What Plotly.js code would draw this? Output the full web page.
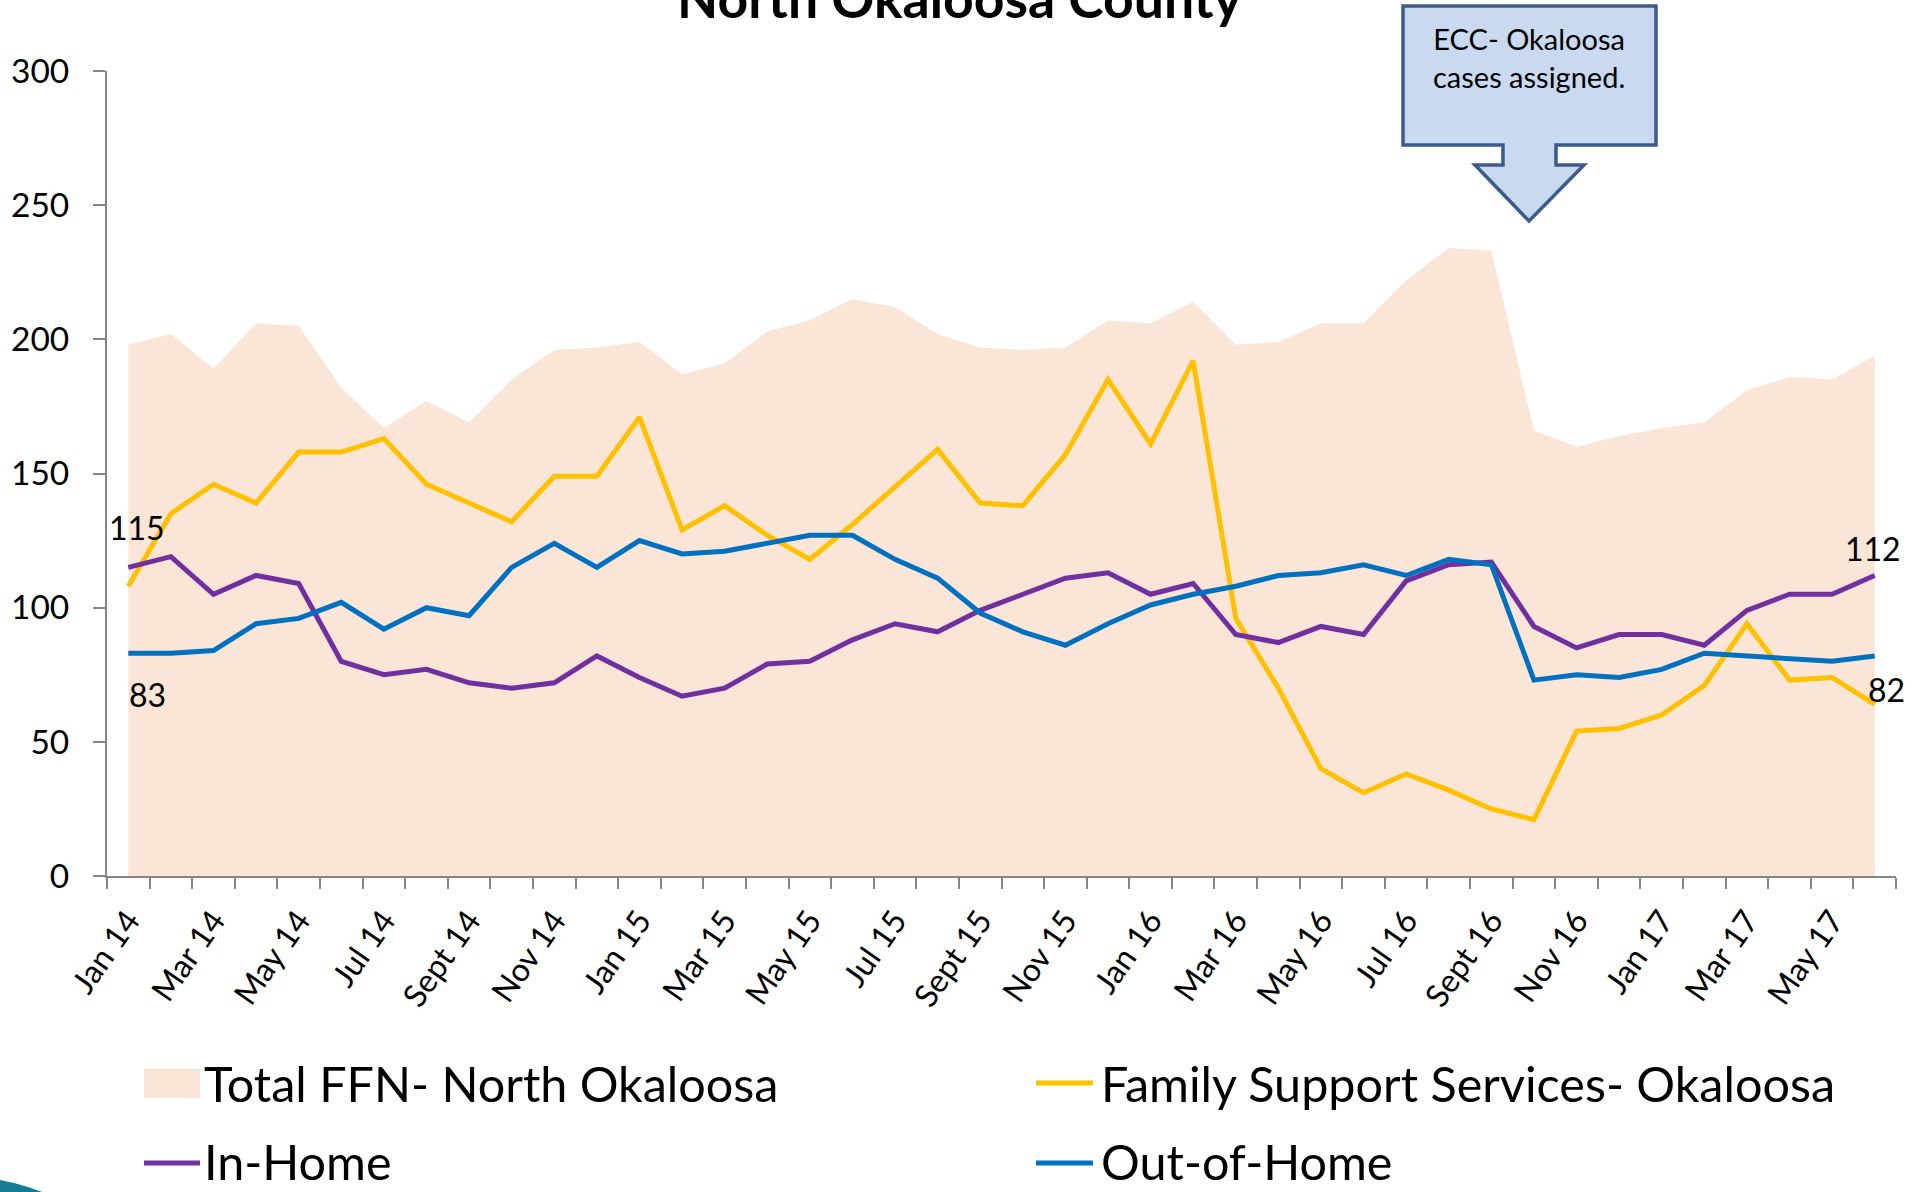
<!DOCTYPE html>
<html>
<head>
<meta charset="utf-8">
<script src="https://cdn.plot.ly/plotly-3.0.1.min.js"></script>
<style>html,body{margin:0;padding:0;background:#fff;}</style>
</head>
<body>
<div id="chart" style="width:1926px;height:1192px;"></div>
<script>
// ---- data ----
const months = [
  "Jan 14","Feb 14","Mar 14","Apr 14","May 14","Jun 14","Jul 14","Aug 14","Sept 14","Oct 14","Nov 14","Dec 14",
  "Jan 15","Feb 15","Mar 15","Apr 15","May 15","Jun 15","Jul 15","Aug 15","Sept 15","Oct 15","Nov 15","Dec 15",
  "Jan 16","Feb 16","Mar 16","Apr 16","May 16","Jun 16","Jul 16","Aug 16","Sept 16","Oct 16","Nov 16","Dec 16",
  "Jan 17","Feb 17","Mar 17","Apr 17","May 17","Jun 17"
];
const totalFFN = [198,202,189,206,205,182,167,177,169,185,196,197,
                  199,187,191,203,207,215,212,202,197,196,197,207,
                  206,214,198,199,206,206,222,234,233,166,160,164,
                  167,169,181,186,185,194];
const familySupport = [108,135,146,139,158,158,163,146,139,132,149,149,
                       171,129,138,127,118,131,145,159,139,138,157,185,
                       161,192,96,70,40,31,38,32,25,21,54,55,
                       60,71,94,73,74,64];
const inHome = [115,119,105,112,109,80,75,77,72,70,72,82,
                74,67,70,79,80,88,94,91,99,105,111,113,
                105,109,90,87,93,90,110,116,117,93,85,90,
                90,86,99,105,105,112];
const outOfHome = [83,83,84,94,96,102,92,100,97,115,124,115,
                   125,120,121,124,127,127,118,111,98,91,86,94,
                   101,105,108,112,113,116,112,118,116,73,75,74,
                   77,83,82,81,80,82];
const seriesNames = ["Total FFN- North Okaloosa","Family Support Services- Okaloosa","In-Home","Out-of-Home"];
const tickLabels = months.map((m, i) => (i % 2 === 0 ? m : ""));
const yTicks = [0, 50, 100, 150, 200, 250, 300];

// ---- styling ----
const FONT = "Lato, 'Liberation Sans', sans-serif";
const C_AREA = "#FBE5D6", C_FSS = "#FFC000", C_IN = "#7030A0", C_OUT = "#0070C0";
const AX = "#868686";

// plot-area pixel frame (for placing decorations)
const PL = 107, PR = 1896, PT = 71, PB = 876;
const px = p => (p - PL) / (PR - PL);
const py = p => (PB - p) / (PB - PT);
function path(points) {
  return "M" + points.map(p => px(p[0]).toFixed(5) + "," + py(p[1]).toFixed(5)).join(" L") + " Z";
}

const traces = [
  {x: months, y: totalFFN, name: seriesNames[0], type: "scatter", mode: "lines",
   fill: "tozeroy", fillcolor: C_AREA, line: {width: 0, color: "rgba(0,0,0,0)"}, hoverinfo: "y"},
  {x: months, y: familySupport, name: seriesNames[1], type: "scatter", mode: "lines",
   line: {color: C_FSS, width: 5}},
  {x: months, y: inHome, name: seriesNames[2], type: "scatter", mode: "lines",
   line: {color: C_IN, width: 5}},
  {x: months, y: outOfHome, name: seriesNames[3], type: "scatter", mode: "lines",
   line: {color: C_OUT, width: 5}}
];

const last = months.length - 1;
const annotations = [
  // title (cut off at the top, as in the reference)
  {text: "<b>North Okaloosa County</b>", xref: "paper", yref: "paper", x: px(960), y: py(-3),
   xanchor: "center", yanchor: "middle", showarrow: false, font: {size: 53.5, color: "#000", family: FONT}},
  // data labels
  {x: months[0], y: inHome[0], text: String(inHome[0]), showarrow: false, xshift: 9, yshift: 40,
   font: {size: 32, color: "#000"}},
  {x: months[0], y: outOfHome[0], text: String(outOfHome[0]), showarrow: false, xshift: 19, yshift: -41,
   font: {size: 32, color: "#000"}},
  {x: months[last], y: inHome[last], text: String(inHome[last]), showarrow: false, xshift: -2, yshift: 27,
   font: {size: 32, color: "#000"}},
  {x: months[last], y: outOfHome[last], text: String(outOfHome[last]), showarrow: false, xshift: 12, yshift: -34,
   font: {size: 32, color: "#000"}},
  // callout text
  {text: "ECC- Okaloosa<br>cases assigned.", xref: "paper", yref: "paper", x: px(1529), y: py(57),
   xanchor: "center", yanchor: "middle", showarrow: false, font: {size: 29, color: "#000"}},
  // legend texts
  {text: seriesNames[0], xref: "paper", yref: "paper", x: px(202), y: py(1083), xanchor: "left", yanchor: "middle",
   showarrow: false, font: {size: 48.5, color: "#000"}},
  {text: seriesNames[1], xref: "paper", yref: "paper", x: px(1099), y: py(1083), xanchor: "left", yanchor: "middle",
   showarrow: false, font: {size: 48.5, color: "#000"}},
  {text: seriesNames[2], xref: "paper", yref: "paper", x: px(202), y: py(1161), xanchor: "left", yanchor: "middle",
   showarrow: false, font: {size: 48.5, color: "#000"}},
  {text: seriesNames[3], xref: "paper", yref: "paper", x: px(1099), y: py(1161), xanchor: "left", yanchor: "middle",
   showarrow: false, font: {size: 48.5, color: "#000"}}
];

const shapes = [
  // callout box with down arrow
  {type: "path", xref: "paper", yref: "paper",
   path: path([[1403,6],[1656,6],[1656,145],[1556,145],[1556,165],[1584,165],[1529,221],
               [1475,165],[1503,165],[1503,145],[1403,145]]),
   fillcolor: "#C9DAF0", line: {color: "#3B5B8C", width: 3.5}, layer: "above"},
  // legend symbols
  {type: "rect", xref: "paper", yref: "paper", x0: px(144), x1: px(200), y0: py(1069), y1: py(1098),
   fillcolor: C_AREA, line: {width: 0}},
  {type: "line", xref: "paper", yref: "paper", x0: px(1036), x1: px(1093), y0: py(1083), y1: py(1083),
   line: {color: C_FSS, width: 5}},
  {type: "line", xref: "paper", yref: "paper", x0: px(144), x1: px(200), y0: py(1163), y1: py(1163),
   line: {color: C_IN, width: 5}},
  {type: "line", xref: "paper", yref: "paper", x0: px(1036), x1: px(1093), y0: py(1163), y1: py(1163),
   line: {color: C_OUT, width: 5}},
  // slide decoration at bottom-left corner
  {type: "path", xref: "paper", yref: "paper",
   path: path([[0,1180],[14,1183],[28,1187],[42,1192],[0,1192]]),
   fillcolor: "#167C94", line: {width: 0}}
];

const layout = {
  width: 1926, height: 1192,
  margin: {l: PL, r: 1926 - PR, t: PT, b: 1192 - PB},
  paper_bgcolor: "#fff", plot_bgcolor: "#fff",
  font: {family: FONT, color: "#000"},
  showlegend: false,
  xaxis: {
    type: "category", range: [-0.5, months.length - 0.5],
    tickmode: "array", tickvals: months, ticktext: tickLabels,
    tickson: "boundaries", ticks: "outside", ticklen: 11, tickwidth: 2, tickcolor: AX,
    tickangle: -55, tickfont: {size: 32, color: "#000"}, ticklabelstandoff: 11,
    showline: true, linecolor: AX, linewidth: 2, showgrid: false, zeroline: false, fixedrange: true
  },
  yaxis: {
    range: [0, 300], tickmode: "array", tickvals: yTicks,
    ticks: "outside", ticklen: 12, tickwidth: 2, tickcolor: AX,
    tickfont: {size: 33.5, color: "#000"}, ticklabelstandoff: 17,
    showline: true, linecolor: AX, linewidth: 2, showgrid: false, zeroline: false, fixedrange: true
  },
  annotations: annotations,
  shapes: shapes
};

Plotly.newPlot("chart", traces, layout, {displayModeBar: false, staticPlot: true});
</script>
</body>
</html>
